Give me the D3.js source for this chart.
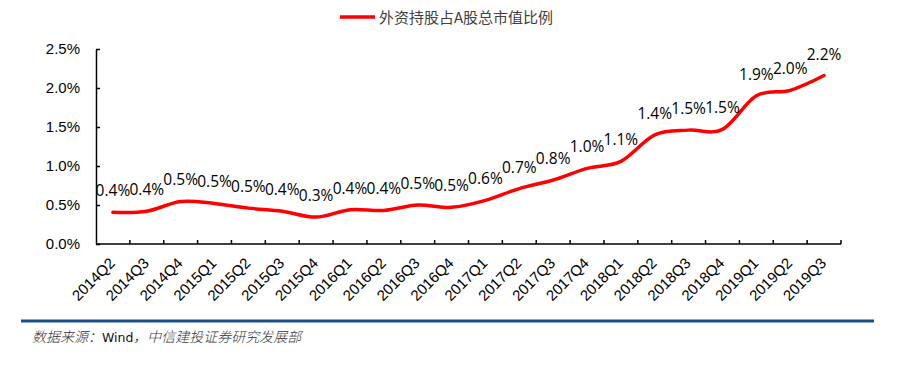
<!DOCTYPE html>
<html><head><meta charset="utf-8">
<script src="https://cdn.jsdelivr.net/npm/d3@7/dist/d3.min.js"></script>
<style>body{margin:0;background:#fff}svg{display:block}</style>
</head><body>
<script>
const categories = ["2014Q2","2014Q3","2014Q4","2015Q1","2015Q2","2015Q3","2015Q4","2016Q1","2016Q2","2016Q3","2016Q4","2017Q1","2017Q2","2017Q3","2017Q4","2018Q1","2018Q2","2018Q3","2018Q4","2019Q1","2019Q2","2019Q3"];
const values = [0.00406,0.00420,0.00545,0.00520,0.00460,0.00420,0.00345,0.00440,0.00430,0.00500,0.00470,0.00560,0.00710,0.00820,0.00970,0.01060,0.01400,0.01460,0.01470,0.01900,0.01970,0.02160];
const yTicks = [0,0.005,0.01,0.015,0.02,0.025];
const seriesName = "外资持股占A股总市值比例";
const sourceText = ["数据来源：","Wind","，中信建投证券研究发展部"];

const W = 897, H = 368;
const svg = d3.select("body").append("svg").attr("width", W).attr("height", H);
const x = d3.scaleBand().domain(categories).range([96, 841]);
const y = d3.scaleLinear().domain([0, 0.025]).range([244, 49]);

// y axis
const yAxis = d3.axisLeft(y).tickValues(yTicks).tickFormat(d3.format(".1%")).tickSizeInner(-4).tickSizeOuter(0).tickPadding(16);
const gy = svg.append("g").attr("transform","translate(96,0)").call(yAxis);
gy.select(".domain").attr("stroke","#000").attr("stroke-width",1.5);
gy.selectAll(".tick line").attr("stroke","#000").attr("stroke-width",1.5);
gy.selectAll(".tick text").attr("font-family","'Liberation Sans',Arial,sans-serif").attr("font-size",15).attr("fill","#000");

// x axis
const gx = svg.append("g").attr("transform","translate(0,244)");
gx.append("line").attr("x1",96).attr("x2",841).attr("stroke","#000").attr("stroke-width",1.5);
const bounds = categories.map(c => x(c)).concat([x(categories[categories.length-1]) + x.bandwidth()]);
gx.selectAll("line.tk").data(bounds.slice(1)).join("line").attr("class","tk")
  .attr("x1",d=>d).attr("x2",d=>d).attr("y1",0).attr("y2",-4).attr("stroke","#000").attr("stroke-width",1.5);
gx.selectAll("text").data(categories).join("text")
  .attr("transform", d => `translate(${x(d)+x.bandwidth()/2+3},20) rotate(-45)`)
  .attr("text-anchor","end")
  .attr("font-family","'Liberation Sans',Arial,sans-serif").attr("font-size",15).attr("fill","#000")
  .text(d=>d);

// line
const line = d3.line().x((d,i)=>x(categories[i])+x.bandwidth()/2).y(d=>y(d)).curve(d3.curveCardinal.tension(0));
svg.append("path").datum(values).attr("d", line).attr("fill","none").attr("stroke","#FF0000").attr("stroke-width",3.5).attr("stroke-linecap","round");

// labels
svg.selectAll("text.lbl").data(values).join("text").attr("class","lbl")
  .attr("x",(d,i)=>x(categories[i])+x.bandwidth()/2).attr("y",d=>y(d)-16)
  .attr("text-anchor","middle").attr("font-family","'Open Sans',sans-serif").attr("font-size",15.5).attr("fill","#000")
  .text(d=>d3.format(".1%")(d));

// legend
svg.append("line").attr("x1",340).attr("x2",375).attr("y1",17).attr("y2",17).attr("stroke","#FF0000").attr("stroke-width",3.5);
svg.append("text").attr("x",379).attr("y",22.5).attr("font-family","'Noto Sans CJK SC',sans-serif").attr("font-size",15).attr("fill","#404040").text(seriesName);

// footer
svg.append("line").attr("x1",21).attr("x2",874).attr("y1",321).attr("y2",321).attr("stroke","#1B4F8A").attr("stroke-width",3);
let fx = 32;
sourceText.forEach((t,i) => {
  const italic = i !== 1;
  const g = svg.append("g").attr("transform", `translate(${fx},342)` + (italic ? " skewX(-14)" : ""));
  const tx = g.append("text").attr("x",0).attr("y",0).attr("fill", italic ? "#333" : "#111")
    .attr("font-family", italic ? "'Noto Sans CJK SC',sans-serif" : "'DejaVu Sans',Verdana,sans-serif")
    .attr("font-size", italic ? 14 : 12.5).attr("font-weight", italic ? 300 : 400).text(t);
  fx += tx.node().getComputedTextLength();
});
</script>
</body></html>
